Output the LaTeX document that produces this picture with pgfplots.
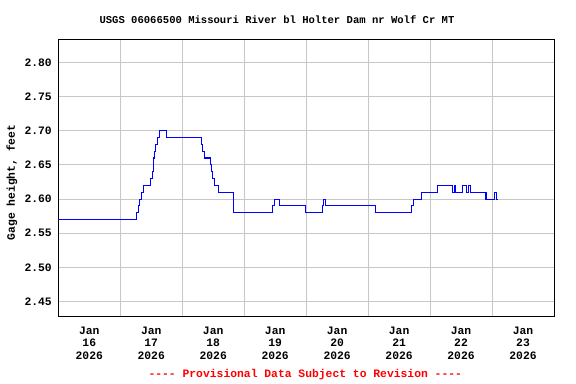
\documentclass[border=0pt]{standalone}
\usepackage{pgfplots}
\pgfplotsset{compat=1.18}
\usepackage{fontspec}
\setmainfont{Liberation Mono}[Ligatures=TeXOff]
\setmonofont{Liberation Mono}[Ligatures=TeXOff]
\begin{document}
\begin{tikzpicture}
\useasboundingbox (-58.3bp,-68bp) rectangle (517.7bp,316bp);
\begin{axis}[
  at={(0,0)}, anchor=south west,
  scale only axis,
  width=495.7bp, height=276.7bp,
  xmin=0, xmax=8, ymin=2.429, ymax=2.8336,
  xtick={0.5,1.5,...,7.5},
  xticklabels={{Jan\\16\\2026},{Jan\\17\\2026},{Jan\\18\\2026},{Jan\\19\\2026},{Jan\\20\\2026},{Jan\\21\\2026},{Jan\\22\\2026},{Jan\\23\\2026}},
  minor xtick={1,2,...,7},
  xminorgrids=true, xmajorgrids=false,
  ytick={2.45,2.50,...,2.80},
  ymajorgrids=true,
  grid style={draw=black!22, line width=0.8pt},
  minor grid style={draw=black!22, line width=0.8pt},
  major tick length=0pt, minor tick length=0pt,
  axis line style={line width=0.8pt},
  /pgf/number format/assume math mode=true,
  yticklabel style={xshift=-3bp, /pgf/number format/fixed, /pgf/number format/fixed zerofill, /pgf/number format/precision=2},
  ticklabel style={font=\fontsize{11.4}{12.85}\selectfont\bfseries},
  xticklabel style={align=center, yshift=-7bp},
  clip mode=individual,
]
\addplot[const plot, color=blue, line width=1.1bp] coordinates {
(0.000,2.57) (1.268,2.58) (1.295,2.59) (1.316,2.60) (1.339,2.61) (1.381,2.62)
(1.494,2.63) (1.521,2.64) (1.542,2.66) (1.558,2.67) (1.574,2.68) (1.602,2.69)
(1.639,2.70) (1.752,2.69) (2.306,2.68) (2.323,2.67) (2.365,2.66) (2.452,2.65)
(2.473,2.64) (2.494,2.63) (2.516,2.62) (2.581,2.61) (2.832,2.58) (3.452,2.59)
(3.490,2.60) (3.574,2.59) (3.994,2.58) (4.258,2.59) (4.284,2.60) (4.316,2.59)
(5.118,2.58) (5.698,2.59) (5.731,2.60) (5.865,2.61) (6.123,2.62) (6.360,2.61)
(6.392,2.62) (6.416,2.61) (6.521,2.62) (6.585,2.61) (6.618,2.62) (6.650,2.61)
(6.903,2.60) (7.045,2.61) (7.065,2.60) (7.102,2.60)
};
\end{axis}
\node[font=\fontsize{10.6}{12}\selectfont\bfseries] at (218.7bp,296bp) {USGS 06066500 Missouri River bl Holter Dam nr Wolf Cr MT};
\node[rotate=90, font=\fontsize{11.4}{13}\selectfont\bfseries] at (-46.3bp,133.5bp) {Gage height, feet};
\node[font=\fontsize{11.4}{13}\selectfont\bfseries, text=red] at (247bp,-58.3bp) {---- Provisional Data Subject to Revision ----};
\end{tikzpicture}
\end{document}
